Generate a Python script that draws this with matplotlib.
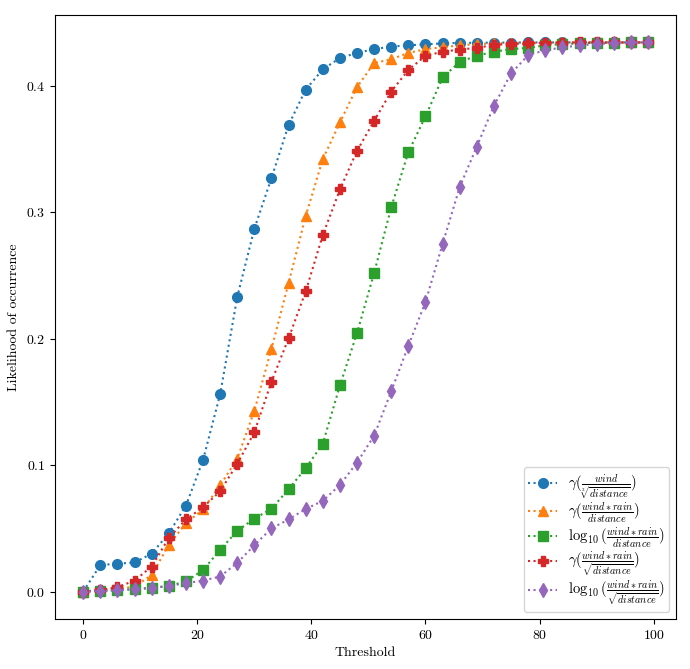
import matplotlib
matplotlib.use("Agg")
import matplotlib.pyplot as plt

plt.rcParams['font.family'] = 'serif'
plt.rcParams['font.serif'] = ['cmr10']
plt.rcParams['mathtext.fontset'] = 'cm'
plt.rcParams['axes.formatter.use_mathtext'] = True

thresholds = list(range(0, 100, 3))

s_gamma_cbrt = [0.0, 0.021, 0.022, 0.023, 0.030, 0.046, 0.068, 0.104, 0.156, 0.233,
                0.287, 0.327, 0.369, 0.397, 0.413, 0.422, 0.426, 0.429, 0.431, 0.432,
                0.4328, 0.4335, 0.434, 0.434, 0.4342, 0.4342, 0.4343, 0.4343, 0.4343, 0.4343,
                0.4343, 0.4343, 0.4343, 0.4343]
s_gamma_lin = [0.0, 0.001, 0.002, 0.004, 0.013, 0.037, 0.054, 0.065, 0.084, 0.105,
               0.143, 0.192, 0.244, 0.297, 0.342, 0.371, 0.399, 0.418, 0.421, 0.426,
               0.429, 0.4305, 0.432, 0.433, 0.4335, 0.434, 0.434, 0.4342, 0.4343, 0.4343,
               0.4343, 0.4343, 0.4343, 0.4343]
s_log_lin = [0.0, 0.0005, 0.001, 0.002, 0.003, 0.0045, 0.008, 0.017, 0.033, 0.048,
             0.0577, 0.0654, 0.081, 0.0975, 0.117, 0.163, 0.2045, 0.252, 0.304, 0.3476,
             0.3758, 0.4066, 0.419, 0.4237, 0.427, 0.429, 0.430, 0.432, 0.433, 0.4335,
             0.434, 0.4342, 0.4343, 0.4343]
s_gamma_sqrt = [0.0, 0.0013, 0.0034, 0.0087, 0.0198, 0.0424, 0.057, 0.0667, 0.0793, 0.101,
                0.126, 0.166, 0.2003, 0.2374, 0.282, 0.318, 0.3486, 0.3723, 0.3955, 0.4126,
                0.4237, 0.427, 0.4287, 0.430, 0.4324, 0.433, 0.4335, 0.434, 0.4342, 0.4343,
                0.4343, 0.4343, 0.4343, 0.4343]
s_log_sqrt = [0.0, 0.0005, 0.001, 0.002, 0.0026, 0.0045, 0.0066, 0.0087, 0.0119, 0.0227,
              0.0366, 0.050, 0.057, 0.0654, 0.0717, 0.0843, 0.102, 0.1233, 0.1584, 0.1945,
              0.229, 0.2749, 0.320, 0.352, 0.3842, 0.4098, 0.4243, 0.4282, 0.4303, 0.432,
              0.433, 0.434, 0.4343, 0.4343]

labels = [r'$\gamma(\frac{wind}{\sqrt[3]{distance}})$',
          r'$\gamma(\frac{wind*rain}{distance})$',
          r'$\log_{10}(\frac{wind*rain}{distance})$',
          r'$\gamma(\frac{wind*rain}{\sqrt{distance}})$',
          r'$\log_{10}(\frac{wind*rain}{\sqrt{distance}})$']
series = [s_gamma_cbrt, s_gamma_lin, s_log_lin, s_gamma_sqrt, s_log_sqrt]
markers = ['o', '^', 's', 'P', 'd']
colors = ['#1f77b4', '#ff7f0e', '#2ca02c', '#d62728', '#9467bd']

fig = plt.figure(figsize=(6.9, 6.69), dpi=100)
ax = fig.add_axes([0.0797, 0.0747, 0.9003, 0.9029])

for ys, lab, m, c in zip(series, labels, markers, colors):
    ax.plot(thresholds, ys, linestyle=':', marker=m, color=c, label=lab,
            markersize=7, linewidth=1.5)

ax.set_xlabel('Threshold')
ax.set_ylabel('Likelihood of occurrence')
ax.legend(loc='lower right', fontsize=10.5, labelspacing=0.0,
          handlelength=2.0, handletextpad=0.7, borderpad=0.3)

fig.savefig('out.png', dpi=100)
